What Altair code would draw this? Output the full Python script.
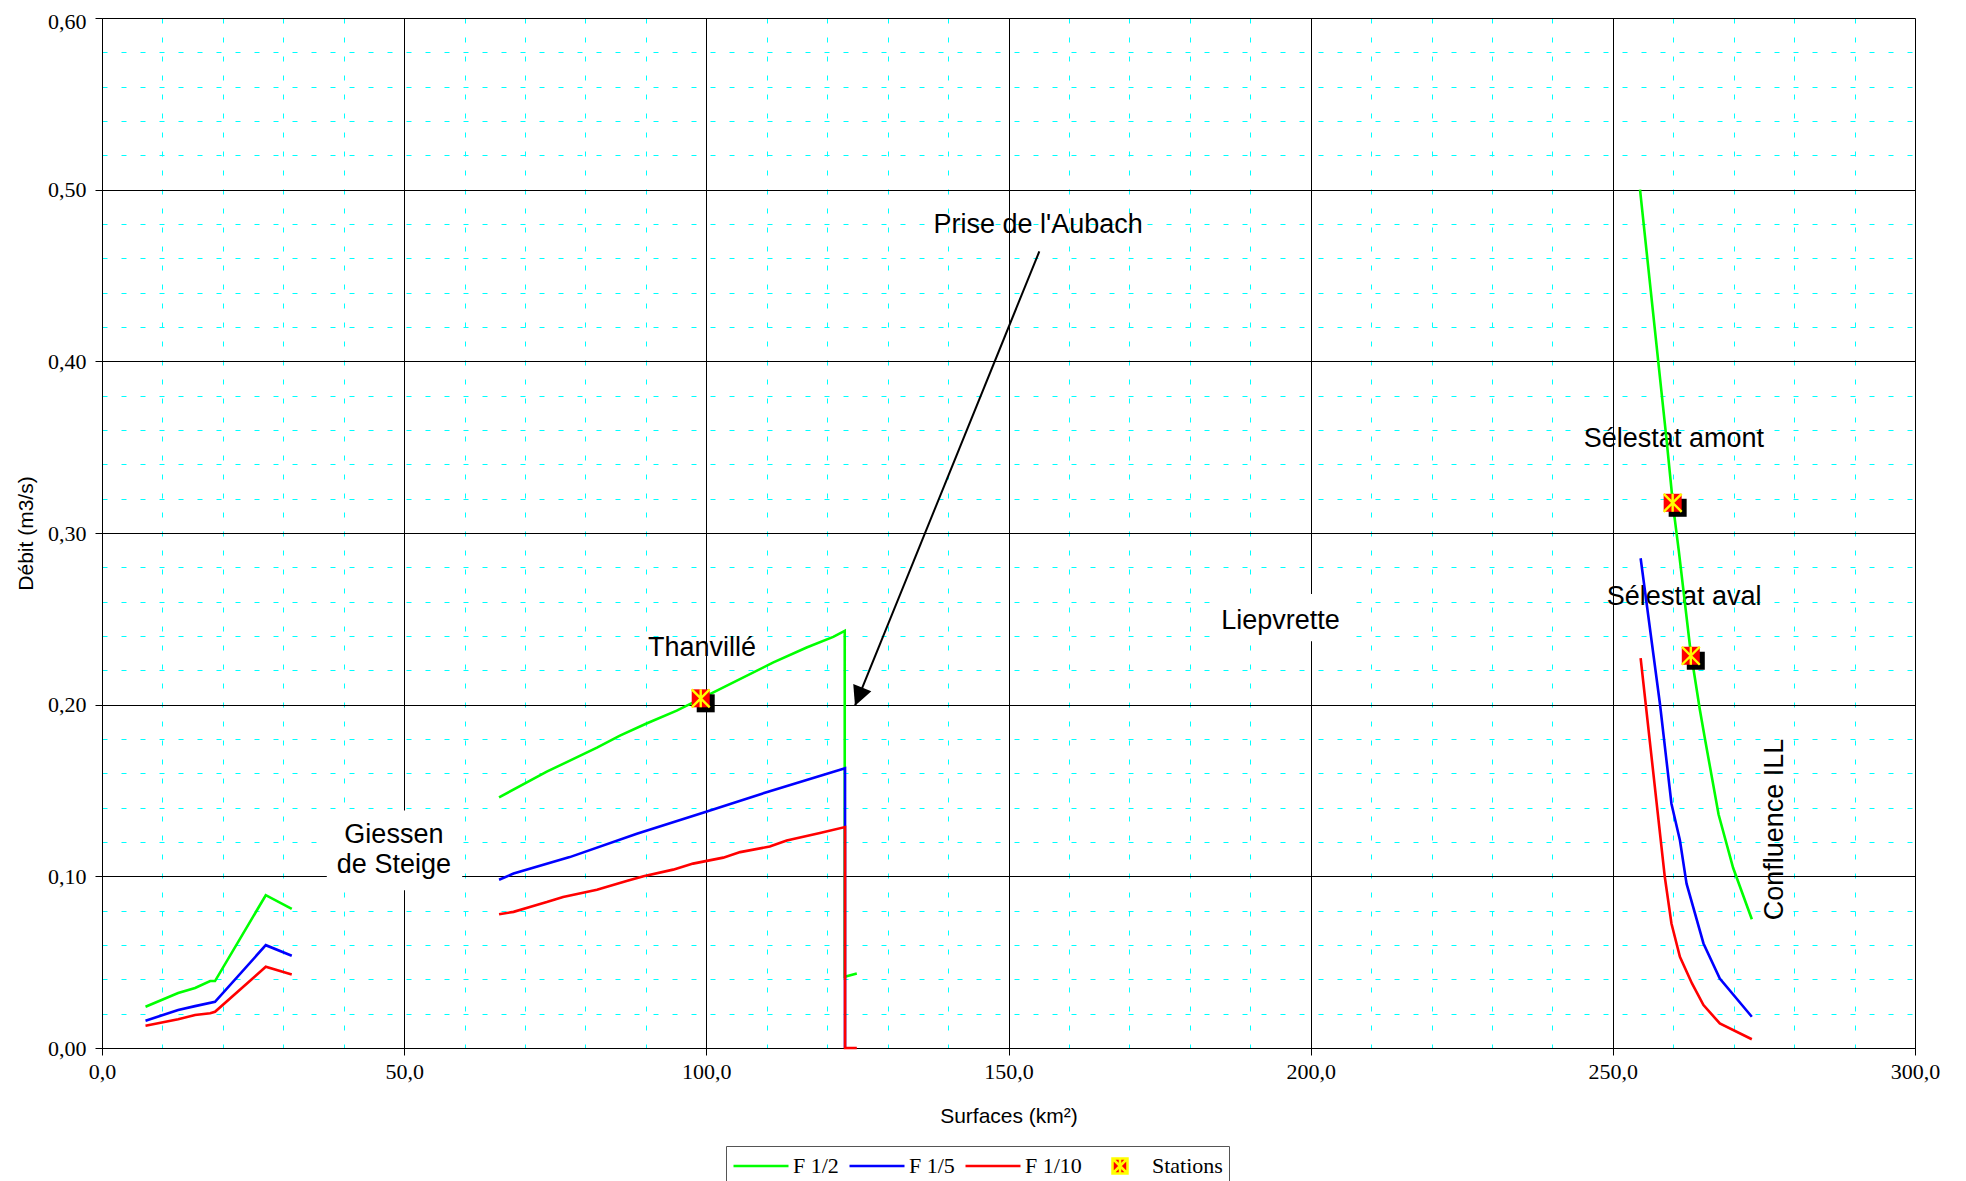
import altair as alt
import pandas as pd

# ---------------- data ----------------
SERIES = ["F 1/2", "F 1/5", "F 1/10"]
LEGEND_ITEMS = ["F 1/2", "F 1/5", "F 1/10", "Stations"]
COLORS = ["#00ff00", "#0000ff", "#ff0000"]

# F 1/2 (green)
f2_a_x = [7.2, 12.6, 15.4, 17.9, 18.7, 27.1, 31.4]
f2_a_y = [0.024, 0.032, 0.035, 0.039, 0.039, 0.089, 0.081]
f2_b_x = [65.7, 73.6, 76.9, 81.9, 85.7, 90.1, 95.1, 99.1, 103.9, 111.1, 116.6, 121.0, 122.9, 122.9, 124.9]
f2_b_y = [0.146, 0.161, 0.1665, 0.175, 0.182, 0.189, 0.1965, 0.2035, 0.212, 0.2246, 0.2333, 0.2395, 0.243, 0.0415, 0.0434]
f2_c_x = [254.5, 258.9, 260.0, 260.9, 262.8, 264.4, 265.3, 267.5, 269.9, 273.0]
f2_c_y = [0.500, 0.354, 0.315, 0.290, 0.233, 0.197, 0.179, 0.136, 0.105, 0.075]

# F 1/5 (blue)
f5_a_x = [7.2, 12.6, 15.4, 18.7, 27.1, 31.4]
f5_a_y = [0.0159, 0.0221, 0.0244, 0.0269, 0.0599, 0.0537]
f5_b_x = [65.7, 68.1, 77.4, 88.5, 100.1, 110.5, 122.95, 122.95]
f5_b_y = [0.098, 0.1016, 0.1112, 0.1248, 0.1378, 0.1496, 0.163, 0.0]
f5_c_x = [254.6, 257.8, 259.7, 261.1, 262.2, 265.0, 267.7, 273.0]
f5_c_y = [0.2853, 0.2004, 0.1423, 0.121, 0.0957, 0.0609, 0.0405, 0.0182]

# F 1/10 (red)
f10_a_x = [7.2, 12.6, 15.4, 17.9, 18.7, 27.1, 31.4]
f10_a_y = [0.013, 0.0167, 0.0192, 0.0202, 0.0211, 0.0473, 0.0428]
f10_b_x = [65.7, 68.1, 70.8, 73.6, 76.3, 81.9, 86.8, 89.6, 94.5, 97.8, 102.8, 105.6, 110.5, 113.3, 118.8, 122.95, 122.95, 124.9]
f10_b_y = [0.0779, 0.0793, 0.0822, 0.085, 0.088, 0.0922, 0.0973, 0.100, 0.1039, 0.1074, 0.1109, 0.1141, 0.1174, 0.1209, 0.1252, 0.1287, 0.0, 0.0]
f10_c_x = [254.6, 258.6, 259.7, 261.1, 263.1, 265.0, 267.7, 273.0]
f10_c_y = [0.2271, 0.0996, 0.0725, 0.0531, 0.0376, 0.025, 0.0143, 0.0051]

# Stations
station_names = ["Thanvillé", "Sélestat amont", "Sélestat aval"]
station_x = [99.07, 259.9, 262.9]
station_y = [0.2037, 0.3176, 0.2285]

# Annotations
label_text = ["Prise de l'Aubach", "Thanvillé", "Liepvrette", "Sélestat amont",
              "Sélestat aval", "Giessen", "de Steige"]
label_x = [154.9, 99.3, 195.0, 260.1, 261.8, 48.3, 48.3]
label_y = [0.4797, 0.2331, 0.2488, 0.3549, 0.263, 0.1238, 0.1064]
vlabel_text = ["Confluence ILL"]
vlabel_x = [276.9]
vlabel_y = [0.1273]
# white boxes behind "Giessen de Steige" and "Liepvrette"
box_x = [37.2, 184.2]
box_x2 = [59.6, 206.5]
box_y = [0.0919, 0.237]
box_y2 = [0.1384, 0.2645]
# arrow "Prise de l'Aubach"
arrow_x = [155.1]
arrow_y = [0.464]
arrow_x2 = [124.6]
arrow_y2 = [0.1994]

x_ticks = [i * 10 for i in range(31)]
y_ticks = [round(i * 0.02, 2) for i in range(31)]

# ---------------- tables ----------------
rows = []
def add(serie, seg, xs, ys):
    for i, (xv, yv) in enumerate(zip(xs, ys)):
        rows.append({"serie": serie, "seg": f"{serie}-{seg}", "x": xv, "y": yv, "ord": i})

add("F 1/2", "a", f2_a_x, f2_a_y)
add("F 1/2", "b", f2_b_x, f2_b_y)
add("F 1/2", "c", f2_c_x, f2_c_y)
add("F 1/5", "a", f5_a_x, f5_a_y)
add("F 1/5", "b", f5_b_x, f5_b_y)
add("F 1/5", "c", f5_c_x, f5_c_y)
add("F 1/10", "a", f10_a_x, f10_a_y)
add("F 1/10", "b", f10_b_x, f10_b_y)
add("F 1/10", "c", f10_c_x, f10_c_y)
lines_df = pd.DataFrame(rows)

stations_df = pd.DataFrame({"name": station_names, "x": station_x, "y": station_y})
labels_df = pd.DataFrame({"t": label_text, "x": label_x, "y": label_y})
vlabels_df = pd.DataFrame({"t": vlabel_text, "x": vlabel_x, "y": vlabel_y})
boxes_df = pd.DataFrame({"x": box_x, "x2": box_x2, "y": box_y, "y2": box_y2})
arrow_df = pd.DataFrame({"x": arrow_x, "y": arrow_y, "x2": arrow_x2, "y2": arrow_y2})

# ---------------- styles ----------------
W, H = 1813, 1030
SERIF = "Liberation Serif"
SANS = "Liberation Sans"
STATION_LEGEND_PATH = "M-1,-1H1V1H-1Z M-1,-1L1,1 M1,-1L-1,1 M0,-1V1"
ASTERISK_PATH = "M-1,-1L1,1 M1,-1L-1,1 M0,-1L0,1"
ARROW_PATH = "M0,0L-1,-2L1,-2Z"

x_major = "datum.value % 50 === 0"
y_major = "round(datum.value * 100) % 10 === 0"

def grid_props(test):
    return dict(
        grid=True,
        tickCount=200,
        gridColor={"condition": {"test": test, "value": "#000000"}, "value": "#00ffff"},
        gridDash={"condition": {"test": test, "value": []}, "value": [5, 14]},
        gridWidth=1,
        gridOpacity=1,
        tickColor="#000000",
        tickOpacity={"condition": {"test": test, "value": 1}, "value": 0},
        tickSize=7,
        tickWidth=1,
        domainColor="#000000",
        domainWidth=1,
        labelOverlap=False,
        labelFlush=False,
        labelFont=SERIF,
        labelFontSize=22,
        labelColor="#000000",
        titleFont=SANS,
        titleFontSize=21,
        titleFontWeight="normal",
        titleColor="#000000",
    )

x_axis = alt.Axis(
    values=x_ticks,
    labelExpr=f"{x_major} ? replace(format(datum.value, '.1f'), '.', ',') : ''",
    title="Surfaces (km²)",
    labelPadding=6,
    titleY=68,
    titleBaseline="middle",
    **grid_props(x_major),
)
y_axis = alt.Axis(
    values=y_ticks,
    labelExpr=f"{y_major} ? replace(format(datum.value, '.2f'), '.', ',') : ''",
    labelOffset={"condition": {"test": "datum.value >= 0.59", "value": 3}, "value": 0},
    title="Débit (m3/s)",
    labelPadding=9,
    titleX=-76,
    titleBaseline="middle",
    **grid_props(y_major),
)

xs = alt.Scale(domain=[0, 300], nice=False, zero=False)
ys = alt.Scale(domain=[0, 0.6], nice=False, zero=False)

legend = alt.Legend(
    title=None,
    orient="none",
    legendX=624,
    legendY=1128,
    direction="horizontal",
    columns=4,
    clipHeight=28,
    strokeColor="#555555",
    fillColor="#ffffff",
    padding=6,
    labelFont=SERIF,
    labelFontSize=22,
    labelColor="#000000",
    labelOffset=3,
    columnPadding=9,
    symbolOffset=0,
    symbolStrokeWidth=2.5,
    symbolOpacity=1,
    symbolType={"expr": f"datum.value === 'Stations' ? '{STATION_LEGEND_PATH}' : 'stroke'"},
    symbolSize={"expr": "datum.value === 'Stations' ? 225 : 3025"},
    symbolFillColor={"expr": "datum.value === 'Stations' ? '#ff0000' : 'transparent'"},
)
color_scale = alt.Scale(domain=LEGEND_ITEMS, range=COLORS + ["#ffff00"])

# ---------------- layers ----------------
boxes = alt.Chart(boxes_df).mark_rect(color="#ffffff").encode(
    x=alt.X("x:Q", scale=xs, axis=x_axis), x2="x2:Q",
    y=alt.Y("y:Q", scale=ys, axis=y_axis), y2="y2:Q",
)

texts = alt.Chart(labels_df).mark_text(font=SANS, fontSize=27, color="#000000",
                                       align="center", baseline="middle").encode(
    x="x:Q", y="y:Q", text="t:N")
vtexts = alt.Chart(vlabels_df).mark_text(font=SANS, fontSize=27, color="#000000",
                                         align="center", baseline="middle", angle=270).encode(
    x="x:Q", y="y:Q", text="t:N")

line_layers = []
for s in SERIES:
    line_layers.append(
        alt.Chart(lines_df).transform_filter(alt.datum.serie == s)
        .mark_line(strokeWidth=2.6)
        .encode(
            x="x:Q", y="y:Q",
            color=alt.Color("serie:N", scale=color_scale, legend=legend),
            detail="seg:N",
            order="ord:Q",
        )
    )

shadow = alt.Chart(stations_df).mark_square(size=324, color="#000000", opacity=1,
                                            xOffset=5, yOffset=5).encode(x="x:Q", y="y:Q")
red_sq = alt.Chart(stations_df).mark_square(size=324, color="#ff0000", opacity=1).encode(
    x="x:Q", y="y:Q")
aster = alt.Chart(stations_df).mark_point(shape=ASTERISK_PATH, size=324, filled=False,
                                          stroke="#ffff00", strokeWidth=2.4, opacity=1).encode(
    x="x:Q", y="y:Q")

arrow_line = alt.Chart(arrow_df).mark_rule(color="#000000", strokeWidth=2).encode(
    x="x:Q", y="y:Q", x2="x2:Q", y2="y2:Q")
arrow_head = alt.Chart(arrow_df).mark_point(shape=ARROW_PATH, size=380, filled=True,
                                            color="#000000", opacity=1, angle=22).encode(
    x="x2:Q", y="y2:Q")

chart = alt.layer(
    boxes, texts, vtexts, *line_layers, shadow, red_sq, aster, arrow_line, arrow_head
).properties(
    width=W, height=H,
    autosize=alt.AutoSizeParams(type="none"),
    padding={"left": 94, "top": 10, "right": 35, "bottom": 133},
).configure_view(stroke=None).configure(background="#ffffff")

chart.save("out.html", embed_options={"renderer": "svg", "actions": False})
